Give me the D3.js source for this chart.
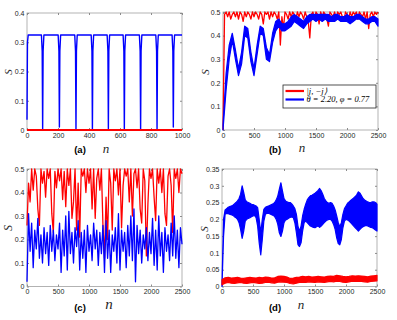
<!DOCTYPE html>
<html>
<head>
<meta charset="utf-8">
<title>S vs n</title>
<script src="https://d3js.org/d3.v7.min.js"></script>
<style>
  body { margin: 0; background: #fff; }
  svg { display: block; }
  .tick text { font-family: "Liberation Sans", Arial, sans-serif; font-size: 7px; fill: #262626; }
  .tick line { stroke: #8c8c8c; }
</style>
</head>
<body>
<svg width="397" height="320"></svg>
<script>
// ---- data ----
// (a) blue: breakpoints [n], [S]; red sits on zero
const aN = [0, 3, 8, 93, 98, 101, 104, 109, 201, 206, 209, 212, 217, 308, 313, 316, 319, 324,
            414, 419, 422, 425, 430, 517, 522, 525, 528, 533, 620, 625, 628, 631, 636,
            725, 730, 733, 736, 741, 831, 836, 839, 842, 847, 936, 941, 944, 947, 952, 1000];
const aBlue = [0.035, 0.30, 0.325, 0.325, 0.27, 0, 0.27, 0.325, 0.325, 0.27, 0.01, 0.27, 0.325,
               0.325, 0.27, 0, 0.27, 0.325, 0.325, 0.27, 0, 0.27, 0.325, 0.325, 0.27, 0.005, 0.27, 0.325,
               0.325, 0.27, 0, 0.27, 0.325, 0.325, 0.27, 0, 0.27, 0.325, 0.325, 0.27, 0, 0.27, 0.325,
               0.325, 0.27, 0.01, 0.27, 0.325, 0.325];
const aRedN = [0, 1000];
const aRed = [0, 0];

// (b) red every 25 steps, blue band (low/high) every 50 steps
const bRed = [0.00, 0.49, 0.50, 0.48, 0.50, 0.47, 0.49, 0.50, 0.48, 0.50, 0.47, 0.50, 0.49, 0.46, 0.50,
              0.48, 0.50, 0.49, 0.47, 0.50, 0.48, 0.50, 0.49, 0.47, 0.50, 0.49, 0.45, 0.50, 0.49, 0.50,
              0.47, 0.50, 0.48, 0.50, 0.49, 0.47, 0.50, 0.36, 0.48, 0.43, 0.50, 0.49, 0.47, 0.50, 0.48,
              0.50, 0.49, 0.47, 0.50, 0.48, 0.50, 0.49, 0.47, 0.50, 0.48, 0.46, 0.39, 0.49, 0.50, 0.47,
              0.50, 0.49, 0.45, 0.50, 0.48, 0.50, 0.49, 0.47, 0.44, 0.50, 0.49, 0.48, 0.50, 0.47, 0.50,
              0.49, 0.50, 0.48, 0.46, 0.50, 0.49, 0.47, 0.50, 0.48, 0.50, 0.49, 0.50, 0.47, 0.50, 0.49,
              0.48, 0.50, 0.47, 0.50, 0.43, 0.49, 0.50, 0.48, 0.50, 0.49, 0.50];
const bBlueLo = [0, 0.17, 0.30, 0.38, 0.30, 0.23, 0.28, 0.40, 0.39, 0.29, 0.23, 0.32, 0.41, 0.40, 0.30,
                 0.29, 0.37, 0.42, 0.44, 0.42, 0.42, 0.43, 0.44, 0.46, 0.45, 0.44, 0.43, 0.45, 0.46, 0.47,
                 0.46, 0.47, 0.46, 0.47, 0.46, 0.46, 0.46, 0.47, 0.46, 0.46, 0.46, 0.45, 0.46, 0.47, 0.47,
                 0.46, 0.45, 0.45, 0.46, 0.46, 0.44];
const bBlueHi = [0.02, 0.24, 0.36, 0.41, 0.34, 0.26, 0.33, 0.44, 0.43, 0.33, 0.26, 0.36, 0.44, 0.43, 0.35,
                 0.32, 0.41, 0.46, 0.47, 0.45, 0.45, 0.46, 0.48, 0.49, 0.48, 0.47, 0.46, 0.48, 0.49, 0.49,
                 0.49, 0.49, 0.49, 0.49, 0.49, 0.48, 0.49, 0.49, 0.48, 0.48, 0.49, 0.48, 0.48, 0.49, 0.49,
                 0.48, 0.47, 0.47, 0.48, 0.48, 0.47];

// (c) both series every 25 steps
const cRed = [0.26, 0.44, 0.36, 0.50, 0.41, 0.50, 0.47, 0.33, 0.26, 0.50, 0.44, 0.49, 0.38, 0.50, 0.46,
              0.50, 0.31, 0.23, 0.49, 0.42, 0.50, 0.45, 0.50, 0.37, 0.49, 0.34, 0.50, 0.43, 0.50, 0.29,
              0.36, 0.50, 0.24, 0.44, 0.21, 0.50, 0.47, 0.50, 0.40, 0.50, 0.44, 0.50, 0.33, 0.50, 0.29,
              0.46, 0.50, 0.41, 0.50, 0.26, 0.12, 0.38, 0.20, 0.50, 0.44, 0.24, 0.50, 0.45, 0.50, 0.39,
              0.50, 0.25, 0.43, 0.50, 0.47, 0.50, 0.36, 0.50, 0.30, 0.48, 0.50, 0.42, 0.50, 0.33, 0.27,
              0.50, 0.45, 0.13, 0.35, 0.50, 0.46, 0.50, 0.38, 0.28, 0.50, 0.44, 0.50, 0.40, 0.50, 0.31,
              0.26, 0.47, 0.50, 0.43, 0.23, 0.50, 0.46, 0.50, 0.40, 0.50, 0.48];
const cBlue = [0.02, 0.31, 0.15, 0.27, 0.08, 0.24, 0.16, 0.29, 0.12, 0.22, 0.10, 0.25, 0.14, 0.23, 0.09,
               0.26, 0.15, 0.24, 0.11, 0.22, 0.16, 0.27, 0.06, 0.24, 0.13, 0.30, 0.07, 0.32, 0.14, 0.23,
               0.10, 0.25, 0.17, 0.28, 0.07, 0.23, 0.12, 0.24, 0.06, 0.26, 0.15, 0.22, 0.11, 0.27, 0.16,
               0.24, 0.09, 0.23, 0.14, 0.26, 0.06, 0.28, 0.12, 0.24, 0.06, 0.22, 0.15, 0.25, 0.10, 0.31,
               0.07, 0.24, 0.15, 0.23, 0.08, 0.26, 0.13, 0.30, 0.11, 0.33, 0.02, 0.26, 0.14, 0.24, 0.10,
               0.22, 0.16, 0.25, 0.11, 0.23, 0.14, 0.29, 0.09, 0.24, 0.07, 0.30, 0.13, 0.23, 0.06, 0.25,
               0.15, 0.22, 0.11, 0.27, 0.13, 0.30, 0.12, 0.24, 0.08, 0.25, 0.18];

// (d) blue band every 25 steps, red band every 50 steps
const dBlueLo = [0.000, 0.150, 0.215, 0.218, 0.217, 0.215, 0.214, 0.212, 0.208, 0.205, 0.200, 0.190, 0.170,
                 0.143, 0.165, 0.195, 0.200, 0.203, 0.205, 0.208, 0.210, 0.212, 0.205, 0.180, 0.130, 0.094,
                 0.140, 0.195, 0.215, 0.218, 0.218, 0.216, 0.214, 0.212, 0.208, 0.200, 0.185, 0.160, 0.149,
                 0.165, 0.190, 0.198, 0.200, 0.203, 0.206, 0.207, 0.205, 0.190, 0.160, 0.125, 0.119, 0.130,
                 0.165, 0.190, 0.195, 0.190, 0.185, 0.180, 0.178, 0.176, 0.175, 0.178, 0.180, 0.176, 0.180,
                 0.185, 0.190, 0.195, 0.198, 0.200, 0.200, 0.195, 0.185, 0.170, 0.145, 0.128, 0.124, 0.140,
                 0.175, 0.195, 0.200, 0.198, 0.195, 0.190, 0.185, 0.180, 0.175, 0.170, 0.165, 0.170, 0.175,
                 0.178, 0.180, 0.182, 0.180, 0.178, 0.176, 0.175, 0.172, 0.168, 0.165];
const dBlueHi = [0.005, 0.200, 0.228, 0.232, 0.236, 0.238, 0.240, 0.242, 0.246, 0.250, 0.255, 0.262, 0.275,
                 0.300, 0.280, 0.258, 0.252, 0.250, 0.248, 0.245, 0.244, 0.242, 0.240, 0.235, 0.200, 0.160,
                 0.200, 0.230, 0.236, 0.238, 0.240, 0.242, 0.244, 0.246, 0.250, 0.258, 0.270, 0.290, 0.309,
                 0.285, 0.262, 0.255, 0.252, 0.250, 0.250, 0.246, 0.240, 0.232, 0.215, 0.180, 0.165, 0.180,
                 0.210, 0.230, 0.245, 0.258, 0.265, 0.270, 0.272, 0.275, 0.278, 0.282, 0.286, 0.292, 0.285,
                 0.275, 0.262, 0.255, 0.250, 0.248, 0.250, 0.248, 0.240, 0.228, 0.210, 0.190, 0.178, 0.190,
                 0.215, 0.232, 0.240, 0.248, 0.252, 0.256, 0.260, 0.264, 0.268, 0.274, 0.282, 0.278, 0.270,
                 0.262, 0.258, 0.255, 0.252, 0.250, 0.250, 0.252, 0.252, 0.250, 0.245];
const dRedLo = [0.005, 0.010, 0.012, 0.010, 0.009, 0.011, 0.012, 0.010, 0.009, 0.011, 0.012, 0.011, 0.009,
                0.010, 0.012, 0.013, 0.011, 0.010, 0.013, 0.014, 0.013, 0.012, 0.009, 0.008, 0.010, 0.012,
                0.013, 0.012, 0.014, 0.013, 0.012, 0.014, 0.013, 0.012, 0.014, 0.015, 0.014, 0.016, 0.015,
                0.013, 0.012, 0.014, 0.016, 0.015, 0.016, 0.015, 0.014, 0.013, 0.015, 0.016, 0.017];
const dRedHi = [0.020, 0.026, 0.027, 0.025, 0.026, 0.027, 0.025, 0.024, 0.026, 0.027, 0.026, 0.025, 0.027,
                0.026, 0.028, 0.027, 0.025, 0.026, 0.030, 0.031, 0.030, 0.028, 0.024, 0.025, 0.027, 0.028,
                0.030, 0.029, 0.030, 0.028, 0.029, 0.030, 0.029, 0.028, 0.030, 0.031, 0.030, 0.033, 0.032,
                0.030, 0.029, 0.030, 0.032, 0.031, 0.032, 0.031, 0.030, 0.029, 0.031, 0.032, 0.033];

// tick labels
const xTicksA = [0, 200, 400, 600, 800, 1000];
const xTicksLong = [0, 500, 1000, 1500, 2000, 2500];
const yTicksA = [0, 0.1, 0.2, 0.3, 0.4];
const yTicksBC = [0, 0.1, 0.2, 0.3, 0.4, 0.5];
const yTicksD = [0, 0.05, 0.1, 0.15, 0.2, 0.25, 0.3, 0.35];
const legendLabels = ["|j, \u2212j\u27E9", "\u03B8 = 2.20, \u03C6 = 0.77"];

const RED = "#ff0000", BLUE = "#0000ff";
const svg = d3.select("svg");

// steps of the sampled series
const step25 = d3.range(0, 2501, 25);
const step50 = d3.range(0, 2501, 50);

function panel(p) {
    const x = d3.scaleLinear().domain(p.xDomain).range([p.left, p.right]);
    const y = d3.scaleLinear().domain(p.yDomain).range([p.bottom, p.top]);
    const g = svg.append("g");

    g.append("rect")
        .attr("x", p.left).attr("y", p.top)
        .attr("width", p.right - p.left).attr("height", p.bottom - p.top)
        .attr("fill", "none").attr("stroke", "#a0a0a0").attr("stroke-width", 0.8);

    const fmt = d => String(d);
    g.append("g").attr("transform", `translate(0,${p.bottom})`)
        .call(d3.axisBottom(x).tickValues(p.xTicks).tickFormat(fmt).tickSizeInner(-2).tickSizeOuter(0).tickPadding(3));
    g.append("g").attr("transform", `translate(0,${p.top})`)
        .call(d3.axisTop(x).tickValues(p.xTicks).tickFormat("").tickSizeInner(-2).tickSizeOuter(0));
    g.append("g").attr("transform", `translate(${p.left},0)`)
        .call(d3.axisLeft(y).tickValues(p.yTicks).tickFormat(fmt).tickSizeInner(-2).tickSizeOuter(0).tickPadding(2.5));
    g.append("g").attr("transform", `translate(${p.right},0)`)
        .call(d3.axisRight(y).tickValues(p.yTicks).tickFormat("").tickSizeInner(-2).tickSizeOuter(0));
    g.selectAll(".domain").remove();

    // axis labels and panel tag
    g.append("text")
        .attr("transform", `translate(${p.sPos[0]},${p.sPos[1]}) rotate(-90)`)
        .attr("text-anchor", "middle").attr("dy", "0.35em")
        .style("font-family", "'Liberation Serif', serif").style("font-style", "italic")
        .style("font-size", p.labelSize[0] + "px").attr("fill", "#262626")
        .text("S");
    g.append("text")
        .attr("x", p.nPos[0]).attr("y", p.nPos[1]).attr("text-anchor", "middle")
        .style("font-family", "'Liberation Serif', serif").style("font-style", "italic")
        .style("font-size", p.labelSize[1] + "px").attr("fill", "#262626")
        .text("n");
    g.append("text")
        .attr("x", p.tagPos[0]).attr("y", p.tagPos[1]).attr("text-anchor", "middle")
        .style("font-family", "'Liberation Sans', Arial, sans-serif").style("font-weight", "bold")
        .style("font-size", "9.5px").attr("fill", "#000")
        .text(p.tag);

    return {g, x, y};
}

function drawLine(P, xs, ys, color, width) {
    const line = d3.line().x((d, i) => P.x(xs[i])).y(d => P.y(d));
    P.g.append("path").datum(ys)
        .attr("d", line).attr("fill", "none")
        .attr("stroke", color).attr("stroke-width", width).attr("stroke-linejoin", "round");
}

function drawBand(P, xs, lo, hi, color) {
    const area = d3.area().x((d, i) => P.x(xs[i])).y0(d => P.y(d)).y1((d, i) => P.y(hi[i]));
    P.g.append("path").datum(lo)
        .attr("d", area).attr("fill", color)
        .attr("stroke", color).attr("stroke-width", 1.2).attr("stroke-linejoin", "round");
}

// (a)
const A = panel({left: 27, right: 182, top: 13, bottom: 130, xDomain: [0, 1000], yDomain: [0, 0.4],
                 xTicks: xTicksA, yTicks: yTicksA, sPos: [8.5, 72], nPos: [106, 152.5], tagPos: [80, 152.5],
                 labelSize: [11, 13], tag: "(a)"});
drawLine(A, aN, aBlue, BLUE, 1.4);
drawLine(A, aRedN, aRed, RED, 1.8);

// (b)
const B = panel({left: 223, right: 378, top: 12, bottom: 130, xDomain: [0, 2500], yDomain: [0, 0.5],
                 xTicks: xTicksLong, yTicks: yTicksBC, sPos: [205, 72], nPos: [302, 152], tagPos: [275, 152.5],
                 labelSize: [11, 13], tag: "(b)"});
drawLine(B, step25, bRed, RED, 1.3);
drawBand(B, step50, bBlueLo, bBlueHi, BLUE);

// legend of (b)
const leg = B.g.append("g");
leg.append("rect").attr("x", 283).attr("y", 85).attr("width", 93).attr("height", 23)
    .attr("fill", "#fff").attr("stroke", "#262626").attr("stroke-width", 0.8);
[RED, BLUE].forEach((c, i) => {
    leg.append("line").attr("x1", 285.5).attr("x2", 304).attr("y1", 91 + i * 8.5).attr("y2", 91 + i * 8.5)
        .attr("stroke", c).attr("stroke-width", 2.2);
    leg.append("text").attr("x", 306.5).attr("y", 91 + i * 8.5).attr("dy", "0.35em")
        .style("font-family", "'Liberation Serif', serif").style("font-style", "italic")
        .style("font-size", "8.5px").attr("fill", "#000")
        .text(legendLabels[i]);
});

// (c)
const C = panel({left: 27, right: 182, top: 169, bottom: 286.5, xDomain: [0, 2500], yDomain: [0, 0.5],
                 xTicks: xTicksLong, yTicks: yTicksBC, sPos: [8, 228], nPos: [109, 308.5], tagPos: [80, 311],
                 labelSize: [12, 15], tag: "(c)"});
drawLine(C, step25, cRed, RED, 1.3);
drawLine(C, step25, cBlue, BLUE, 1.3);

// (d)
const D = panel({left: 222, right: 377, top: 169, bottom: 286.5, xDomain: [0, 2500], yDomain: [0, 0.35],
                 xTicks: xTicksLong, yTicks: yTicksD, sPos: [204, 229], nPos: [301, 308.5], tagPos: [275, 311],
                 labelSize: [11, 13], tag: "(d)"});
drawBand(D, step25, dBlueLo, dBlueHi, BLUE);
drawBand(D, step50, dRedLo, dRedHi, RED);
</script>
</body>
</html>
